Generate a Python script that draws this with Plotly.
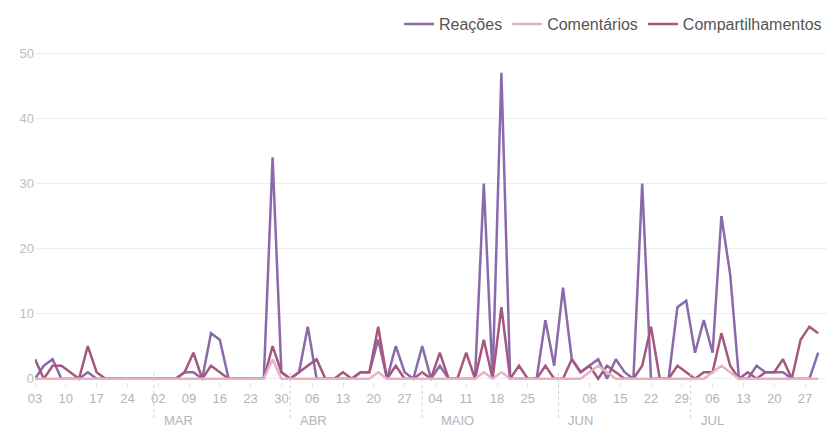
import plotly.graph_objects as go
import pandas as pd

# ---- data (one point every 2 days, starting 2020-02-03) ----
start_date = "2020-02-03"
n_points = 90
dates = pd.date_range(start_date, periods=n_points, freq="2D")

reacoes = [0, 2, 3, 0, 0, 0, 1, 0, 0, 0,
           0, 0, 0, 0, 0, 0, 0, 1, 1, 0,
           7, 6, 0, 0, 0, 0, 0, 34, 1, 0,
           1, 8, 0, 0, 0, 0, 0, 1, 1, 6,
           0, 5, 1, 0, 5, 0, 2, 0, 0, 0,
           0, 30, 0, 47, 0, 0, 0, 0, 9, 2,
           14, 3, 1, 2, 3, 0, 3, 1, 0, 30,
           0, 0, 0, 11, 12, 4, 9, 4, 25, 16,
           0, 0, 2, 1, 1, 1, 0, 0, 0, 4]

comentarios = [0, 0, 0, 0, 0, 0, 0, 0, 0, 0,
               0, 0, 0, 0, 0, 0, 0, 0, 0, 0,
               0, 0, 0, 0, 0, 0, 0, 3, 0, 0,
               0, 0, 0, 0, 0, 0, 0, 0, 0, 1,
               0, 0, 0, 0, 0, 0, 0, 0, 0, 0,
               0, 1, 0, 1, 0, 0, 0, 0, 0, 0,
               0, 0, 0, 1, 2, 1, 0, 0, 0, 0,
               0, 0, 0, 0, 0, 0, 0, 1, 2, 1,
               0, 0, 0, 0, 0, 0, 0, 0, 0, 0]

compartilhamentos = [3, 0, 2, 2, 1, 0, 5, 1, 0, 0,
                     0, 0, 0, 0, 0, 0, 0, 1, 4, 0,
                     2, 1, 0, 0, 0, 0, 0, 5, 1, 0,
                     1, 2, 3, 0, 0, 1, 0, 1, 1, 8,
                     0, 2, 0, 0, 1, 0, 4, 0, 0, 4,
                     0, 6, 0, 11, 0, 2, 0, 0, 2, 0,
                     0, 3, 1, 2, 0, 2, 1, 0, 0, 2,
                     8, 0, 0, 2, 1, 0, 1, 1, 7, 2,
                     0, 1, 0, 1, 1, 3, 0, 6, 8, 7]

series_names = ["Reações", "Comentários", "Compartilhamentos"]

tick_dates = ["2020-02-03", "2020-02-10", "2020-02-17", "2020-02-24",
              "2020-03-02", "2020-03-09", "2020-03-16", "2020-03-23", "2020-03-30",
              "2020-04-06", "2020-04-13", "2020-04-20", "2020-04-27",
              "2020-05-04", "2020-05-11", "2020-05-18", "2020-05-25",
              "2020-06-01", "2020-06-08", "2020-06-15", "2020-06-22", "2020-06-29",
              "2020-07-06", "2020-07-13", "2020-07-20", "2020-07-27"]
tick_labels = ["03", "10", "17", "24", "02", "09", "16", "23", "30",
               "06", "13", "20", "27", "04", "11", "18", "25", "",
               "08", "15", "22", "29", "06", "13", "20", "27"]

month_starts = ["2020-03-01", "2020-04-01", "2020-05-01", "2020-06-01", "2020-07-01"]
month_labels = ["MAR", "ABR", "MAIO", "JUN", "JUL"]
month_shift = [8, 8, 17, 7, 8]

y_ticks = [0, 10, 20, 30, 40, 50]

# ---- styling ----
col_r = "#8a6aab"
col_com = "#e6b3c6"
col_c = "#a6577f"
font_family = "Liberation Sans, Arial, sans-serif"

fig = go.Figure()
fig.add_trace(go.Scatter(x=dates, y=reacoes, name=series_names[0], mode="lines",
                         line=dict(color=col_r, width=2.5), legendrank=1))
fig.add_trace(go.Scatter(x=dates, y=compartilhamentos, name=series_names[2], mode="lines",
                         line=dict(color=col_c, width=2.5), legendrank=3))
fig.add_trace(go.Scatter(x=dates, y=comentarios, name=series_names[1], mode="lines",
                         line=dict(color=col_com, width=2.5), legendrank=2))

for d in month_starts:
    fig.add_shape(type="line", xref="x", yref="paper", x0=d, x1=d, y0=-0.108, y1=0.035,
                  line=dict(color="#cfcfcf", width=1, dash="dot"))

for d, lab, sh in zip(month_starts, month_labels, month_shift):
    fig.add_annotation(x=d, y=-0.116, xref="x", yref="paper", text=lab, showarrow=False,
                       xanchor="left", yanchor="middle", xshift=sh,
                       font=dict(size=13, color="#b4b4b4", family=font_family))

fig.update_layout(
    width=827, height=432,
    margin=dict(l=35, r=0, t=50, b=50),
    paper_bgcolor="white", plot_bgcolor="white",
    font=dict(family=font_family),
    showlegend=True,
    legend=dict(orientation="h", x=1, xanchor="right", y=1.078, yanchor="middle",
                font=dict(size=16, color="#555555"), traceorder="normal",
                itemwidth=30, bgcolor="rgba(0,0,0,0)"),
    xaxis=dict(type="date", range=["2020-02-03", "2020-08-01"],
               tickvals=tick_dates, ticktext=tick_labels,
               ticks="outside", ticklen=4, tickcolor="#e0e0e0",
               tickfont=dict(size=13, color="#b4b4b4"),
               showgrid=False, zeroline=False, showline=False),
    yaxis=dict(range=[-0.5, 50.5], tickvals=y_ticks,
               showgrid=True, gridcolor="#eeeeee", gridwidth=1,
               zeroline=False, showline=False,
               tickfont=dict(size=13, color="#bdbdbd")),
)

fig.write_html("out.html")
